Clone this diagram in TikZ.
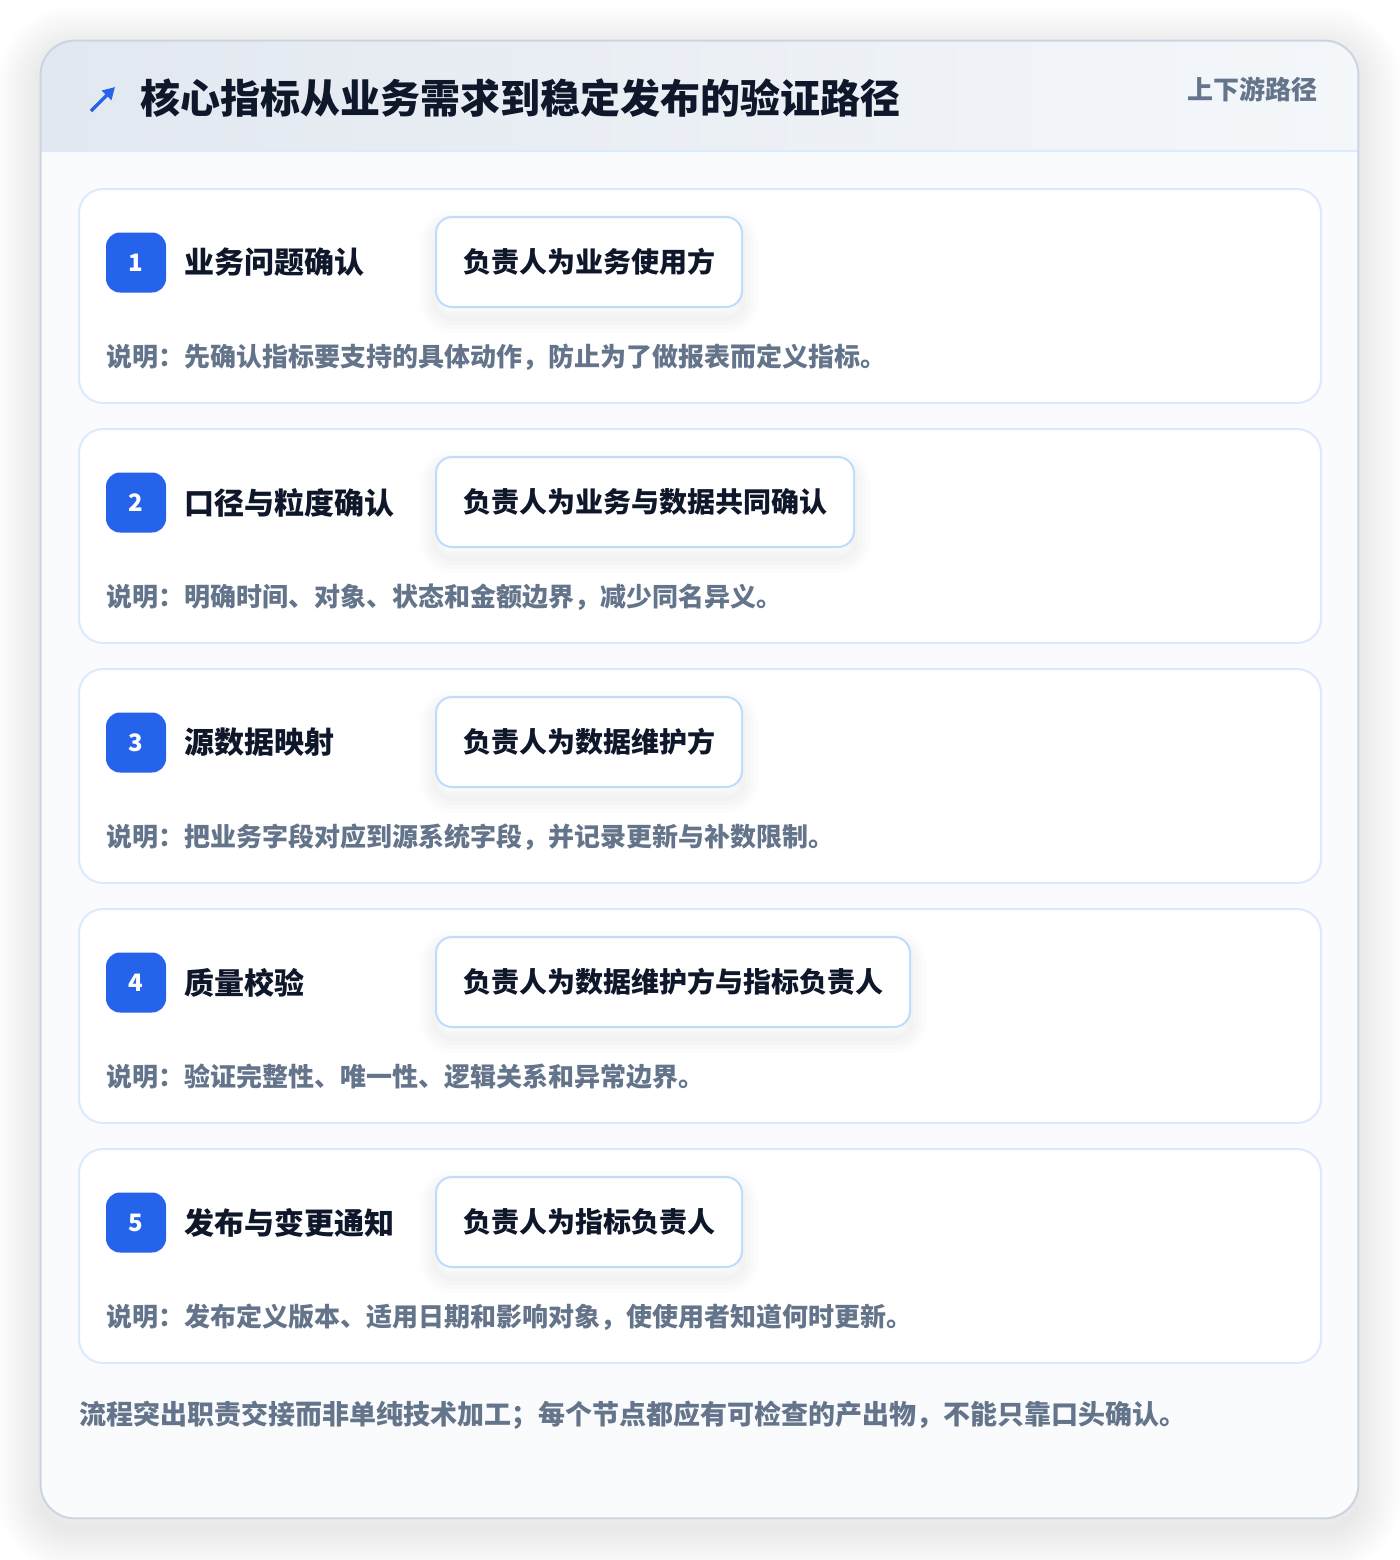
\documentclass[tikz,border=0pt]{standalone}
\usepackage{fontspec}
\setmainfont{Noto Sans CJK SC}
\usetikzlibrary{positioning,calc,arrows.meta}

\definecolor{brandblue}{HTML}{2563EB}
\definecolor{inkdark}{HTML}{0F172A}
\definecolor{inkgray}{HTML}{64748B}
\definecolor{cardline}{HTML}{CBD5E1}
\definecolor{stepline}{HTML}{DBEAFE}
\definecolor{ownerline}{HTML}{BFDBFE}
\definecolor{headleft}{HTML}{E2E8F0}
\definecolor{headright}{HTML}{F4F7FA}
\definecolor{bodyfill}{HTML}{F9FBFD}

\pgfdeclarelayer{back}
\pgfdeclarelayer{shade}
\pgfsetlayers{back,shade,main}

\tikzset{
  panel/.style={fill=bodyfill, rounded corners=17pt, minimum width=658.5pt, minimum height=738.5pt, inner sep=0pt},
  stepcard/.style={draw=stepline, line width=1pt, fill=white, rounded corners=12pt, minimum width=621pt, minimum height=107pt, inner sep=0pt},
  badge/.style={fill=brandblue, text=white, rounded corners=7pt, minimum size=30pt, inner sep=0pt, font=\fontsize{12}{12}\selectfont\bfseries},
  steptitle/.style={text=inkdark, inner sep=0pt, anchor=west, font=\fontsize{15}{16}\selectfont\bfseries},
  ownerbox/.style={draw=ownerline, line width=1pt, fill=white, rounded corners=8pt, minimum height=45pt, inner xsep=13.5pt, anchor=west,
    text=inkdark, font=\fontsize{14}{15}\selectfont\bfseries},
  note/.style={text=inkgray, inner sep=0pt, anchor=west, font=\fontsize{13}{14}\selectfont\bfseries},
  remark/.style={note, font=\fontsize{13.5}{14}\selectfont\bfseries},
}

\begin{document}
\begin{tikzpicture}[x=0.5pt, y=-0.5pt]
  \useasboundingbox (0,0) rectangle (1400,1560);

  \begin{pgfonlayer}{back}
  \fill[white] (0,0) rectangle (1400,1560);
  % soft shadow round the outer card
  \foreach \w in {4,8,...,44}
    \draw[black, opacity=0.009, line width=\w pt, rounded corners=17pt] (41,51) rectangle (1358,1528);

  % outer card and header band
  \node[panel] (panel) at (699.5,779.5) {};
  \begin{scope}
    \clip[rounded corners=17pt] (panel.north west) rectangle (panel.south east);
    \shade[left color=headleft, right color=headright] (41,41) rectangle (1358,151);
  \end{scope}
  \draw[stepline, line width=1pt] (41,151) -- (1358,151);
  \draw[cardline, line width=1pt, rounded corners=17pt] (panel.north west) rectangle (panel.south east);
  \end{pgfonlayer}

  \draw[brandblue, line width=1.7pt, -{Triangle[length=6pt,width=6.5pt]}] (91,111) -- (115,87);
  \node[text=inkdark, inner sep=0pt, anchor=west, font=\fontsize{20}{21}\selectfont\bfseries] (heading) at (140,98) {核心指标从业务需求到稳定发布的验证路径};
  \node[text=inkgray, inner sep=0pt, anchor=east, font=\fontsize{13}{14}\selectfont\bfseries] (tag) at (1318,89) {上下游路径};

  % step 1
  \begin{pgfonlayer}{back}\node[stepcard] (card1) at (700,296) {};\end{pgfonlayer}
  \node[badge] (badge1) at (136,262.5) {1};
  \node[steptitle, right=9pt of badge1] (title1) {业务问题确认};
  \node[ownerbox] (owner1) at (435,262) {负责人为业务使用方};
  \node[note] (note1) at (106,357) {说明：先确认指标要支持的具体动作，防止为了做报表而定义指标。};

  % step 2
  \begin{pgfonlayer}{back}\node[stepcard] (card2) at (700,536) {};\end{pgfonlayer}
  \node[badge] (badge2) at (136,502.5) {2};
  \node[steptitle, right=9pt of badge2] (title2) {口径与粒度确认};
  \node[ownerbox] (owner2) at (435,502) {负责人为业务与数据共同确认};
  \node[note] (note2) at (106,597) {说明：明确时间、对象、状态和金额边界，减少同名异义。};

  % step 3
  \begin{pgfonlayer}{back}\node[stepcard] (card3) at (700,776) {};\end{pgfonlayer}
  \node[badge] (badge3) at (136,742.5) {3};
  \node[steptitle, right=9pt of badge3] (title3) {源数据映射};
  \node[ownerbox] (owner3) at (435,742) {负责人为数据维护方};
  \node[note] (note3) at (106,837) {说明：把业务字段对应到源系统字段，并记录更新与补数限制。};

  % step 4
  \begin{pgfonlayer}{back}\node[stepcard] (card4) at (700,1016) {};\end{pgfonlayer}
  \node[badge] (badge4) at (136,982.5) {4};
  \node[steptitle, right=9pt of badge4] (title4) {质量校验};
  \node[ownerbox] (owner4) at (435,982) {负责人为数据维护方与指标负责人};
  \node[note] (note4) at (106,1077) {说明：验证完整性、唯一性、逻辑关系和异常边界。};

  % step 5
  \begin{pgfonlayer}{back}\node[stepcard] (card5) at (700,1256) {};\end{pgfonlayer}
  \node[badge] (badge5) at (136,1222.5) {5};
  \node[steptitle, right=9pt of badge5] (title5) {发布与变更通知};
  \node[ownerbox] (owner5) at (435,1222) {负责人为指标负责人};
  \node[note] (note5) at (106,1317) {说明：发布定义版本、适用日期和影响对象，使使用者知道何时更新。};

  % faint shadows under the owner boxes
  \begin{pgfonlayer}{shade}
  \foreach \n in {owner1,owner2,owner3,owner4,owner5}
    \foreach \w in {3,7,11,15}
      \draw[black, opacity=0.012, line width=\w pt, rounded corners=8pt]
        ($(\n.north west)+(0,10)$) rectangle ($(\n.south east)+(0,10)$);
  \end{pgfonlayer}

  % closing remark
  \node[remark] (closing) at (79,1415) {流程突出职责交接而非单纯技术加工；每个节点都应有可检查的产出物，不能只靠口头确认。};
\end{tikzpicture}
\end{document}
